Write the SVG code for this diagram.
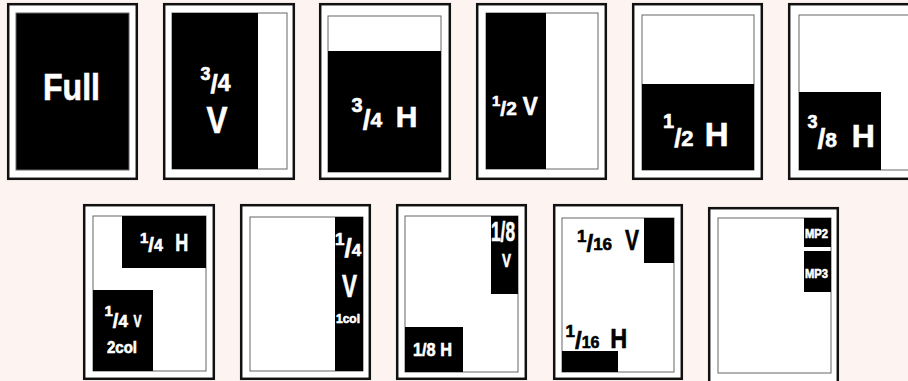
<svg xmlns="http://www.w3.org/2000/svg" width="908" height="381" viewBox="0 0 908 381">
<style>
.bg{fill:#fdf3f0}
.outer{fill:#fff;stroke:#111;stroke-width:2.5}
.inner{fill:#fff;stroke:#666;stroke-width:1}
.blk{fill:#000}
.t{font-family:"Liberation Sans",Arial,sans-serif;font-weight:bold;fill:#fff;stroke:#fff;stroke-width:0.6}
.d{fill:#000;stroke:#000}
</style>
<rect class="bg" x="0" y="0" width="908" height="381"/>

<g id="full">
<rect class="outer" x="8.2" y="4.2" width="128.6" height="174.6"/>
<rect x="16" y="13" width="113" height="157" fill="#000" stroke="#666" stroke-width="1"/>
<text class="t" x="43" y="100" font-size="36" textLength="57" lengthAdjust="spacingAndGlyphs">Full</text>
</g>

<g id="three-quarter-v">
<rect class="outer" x="164.2" y="4.2" width="129.6" height="174.6"/>
<rect class="inner" x="172" y="13" width="115" height="156"/>
<rect class="blk" x="172" y="13" width="86" height="156"/>
<text class="t" x="200.5"><tspan y="80" font-size="18">3</tspan><tspan y="93" font-size="26">/</tspan><tspan y="91" font-size="23">4</tspan></text>
<text class="t" x="206.5" y="133" font-size="36" textLength="21" lengthAdjust="spacingAndGlyphs">V</text>
</g>

<g id="three-quarter-h">
<rect class="outer" x="320.2" y="4.2" width="129.6" height="174.6"/>
<rect class="inner" x="328" y="16" width="113" height="156"/>
<rect class="blk" x="328" y="51" width="113" height="121"/>
<text class="t" x="351.5"><tspan y="112" font-size="20">3</tspan><tspan y="129" font-size="28">/</tspan><tspan y="127" font-size="21">4</tspan><tspan dx="13.7" y="127" font-size="30">H</tspan></text>
</g>

<g id="half-v">
<rect class="outer" x="477.2" y="4.2" width="128.6" height="174.6"/>
<rect class="inner" x="486" y="13" width="112" height="156"/>
<rect class="blk" x="486" y="13" width="60" height="156"/>
<text class="t" x="492"><tspan y="106" font-size="15">1</tspan><tspan y="116" font-size="21">/</tspan><tspan y="115" font-size="19">2</tspan><tspan dx="6" y="115" font-size="26" textLength="15" lengthAdjust="spacingAndGlyphs">V</tspan></text>
</g>

<g id="half-h">
<rect class="outer" x="633.2" y="4.2" width="128.6" height="174.6"/>
<rect class="inner" x="642" y="15" width="112" height="155"/>
<rect class="blk" x="642" y="84" width="112" height="86"/>
<text class="t" x="663"><tspan y="128" font-size="20">1</tspan><tspan y="147" font-size="26">/</tspan><tspan y="146" font-size="22">2</tspan><tspan dx="11.1" y="146" font-size="33">H</tspan></text>
</g>

<g id="three-eighth-h">
<rect class="outer" x="789.2" y="4.2" width="140" height="174.6"/>
<rect class="inner" x="799" y="15" width="120" height="155"/>
<rect class="blk" x="799" y="92" width="82" height="78"/>
<text class="t" x="807.5"><tspan y="128" font-size="18">3</tspan><tspan y="148" font-size="28">/</tspan><tspan y="147" font-size="21">8</tspan><tspan dx="14.7" y="147" font-size="32">H</tspan></text>
</g>

<g id="quarter-h-quarter-v">
<rect class="outer" x="84.2" y="205.2" width="129.6" height="173.6"/>
<rect class="inner" x="93" y="216" width="113" height="155"/>
<rect class="blk" x="122" y="216" width="84" height="52"/>
<rect class="blk" x="93" y="290" width="60" height="81"/>
<text class="t" x="140"><tspan y="243" font-size="15">1</tspan><tspan y="252" font-size="20">/</tspan><tspan y="251" font-size="16">4</tspan><tspan dx="12.5" y="251" font-size="24" textLength="13" lengthAdjust="spacingAndGlyphs">H</tspan></text>
<text class="t" x="104.5"><tspan y="316" font-size="15">1</tspan><tspan y="328" font-size="20">/</tspan><tspan y="327" font-size="17">4</tspan><tspan dx="5.6" y="327" font-size="17" textLength="8" lengthAdjust="spacingAndGlyphs">V</tspan></text>
<text class="t" x="107" y="353" font-size="16" textLength="30" lengthAdjust="spacingAndGlyphs">2col</text>
</g>

<g id="quarter-v-1col">
<rect class="outer" x="241.2" y="205.2" width="128.6" height="173.6"/>
<rect class="inner" x="250" y="217" width="113" height="154"/>
<rect class="blk" x="335" y="217" width="28" height="154"/>
<text class="t" x="335"><tspan y="245" font-size="17">1</tspan><tspan y="257" font-size="26">/</tspan><tspan y="256" font-size="17">4</tspan></text>
<text class="t" x="342" y="297" font-size="32" textLength="15" lengthAdjust="spacingAndGlyphs">V</text>
<text class="t" x="336" y="323" font-size="13" textLength="24" lengthAdjust="spacingAndGlyphs">1col</text>
</g>

<g id="eighth">
<rect class="outer" x="397.2" y="205.2" width="128.6" height="173.6"/>
<rect class="inner" x="405" y="216" width="113" height="156"/>
<rect class="blk" x="491" y="216" width="27" height="78"/>
<rect class="blk" x="405" y="327" width="58" height="45"/>
<text class="t" x="491" y="241" font-size="27" textLength="24" lengthAdjust="spacingAndGlyphs">1/8</text>
<text class="t" x="502" y="267" font-size="19" textLength="9" lengthAdjust="spacingAndGlyphs">V</text>
<text class="t" x="413" y="356" font-size="19" textLength="39" lengthAdjust="spacingAndGlyphs">1/8 H</text>
</g>

<g id="sixteenth">
<rect class="outer" x="554.2" y="205.2" width="127.6" height="173.6"/>
<rect class="inner" x="562" y="218" width="112" height="154"/>
<rect class="blk" x="644" y="218" width="30" height="45"/>
<rect class="blk" x="562" y="351" width="56" height="21"/>
<text class="t d" x="577"><tspan y="242" font-size="17">1</tspan><tspan y="252" font-size="24">/</tspan><tspan y="250" font-size="17">16</tspan><tspan dx="12.9" y="250" font-size="30" textLength="14" lengthAdjust="spacingAndGlyphs">V</tspan></text>
<text class="t d" x="565.5"><tspan y="337" font-size="17">1</tspan><tspan y="349" font-size="24">/</tspan><tspan y="348" font-size="16">16</tspan><tspan dx="10.8" y="348" font-size="28" textLength="17" lengthAdjust="spacingAndGlyphs">H</tspan></text>
</g>

<g id="mp">
<rect class="outer" x="709.2" y="208.2" width="128.6" height="175"/>
<rect class="inner" x="718" y="218" width="113" height="155"/>
<rect class="blk" x="804" y="218" width="27" height="29"/>
<rect class="blk" x="804" y="251" width="27" height="41"/>
<text class="t" x="805" y="238" font-size="12" textLength="23" lengthAdjust="spacingAndGlyphs">MP2</text>
<text class="t" x="805" y="278" font-size="13" textLength="23" lengthAdjust="spacingAndGlyphs">MP3</text>
</g>

<g id="connectors"></g>
</svg>
